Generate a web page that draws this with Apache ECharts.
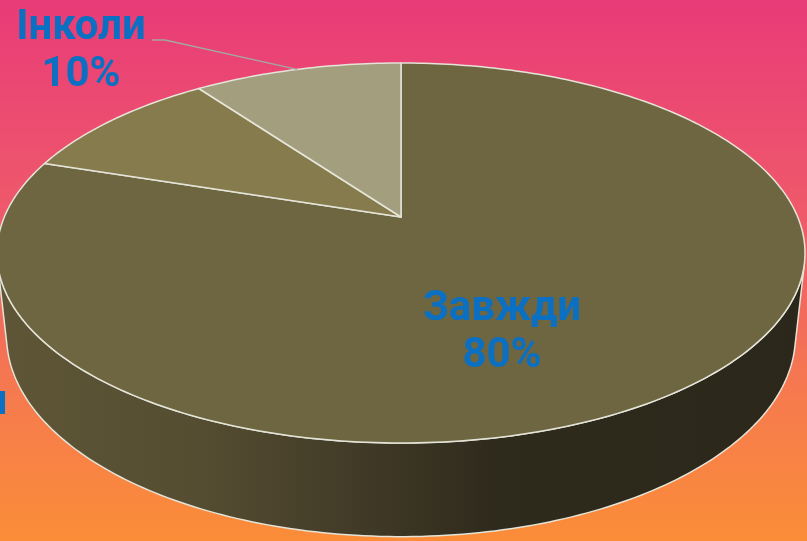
<!DOCTYPE html>
<html>
<head>
<meta charset="utf-8">
<script src="https://cdn.jsdelivr.net/npm/echarts@6/dist/echarts.min.js"></script>
<style>
  html, body { margin: 0; padding: 0; overflow: hidden; }
  #chart { width: 807px; height: 541px; }
</style>
</head>
<body>
<div id="chart"></div>
<script>
const categories = ['Завжди', 'Ніколи', 'Інколи'];
const values = [80, 10, 10];
const topColors = ['#6e6640', '#857b4d', '#a39e7e'];
// where each label block starts (centre x, top y)
const labelPos = [[502, 286], [-60, 380], [81, 5]];
// leader line start for labels that have one
const leaderFrom = [null, null, [152, 40]];

const chart = echarts.init(document.getElementById('chart'));

// simple perspective camera for the tilted pie
const CX = 401, CY = 217, R = 396.7;
const TILT = 27.5 * Math.PI / 180, DIST = 4.682, DEPTH = 0.237;
const sinT = Math.sin(TILT), cosT = Math.cos(TILT);
const total = values.reduce((s, v) => s + v, 0);
const starts = [];
let acc = 0;
values.forEach(v => { starts.push(acc); acc += v; });

// a = angle clockwise from 12 o'clock, y = height (0 top, -DEPTH bottom)
function project(a, y) {
  const x = Math.sin(a), z = -Math.cos(a);
  const cy = y * cosT - z * sinT;
  const dep = DIST - y * sinT - z * cosT;
  return [CX + R * x * DIST / dep, CY - R * cy * DIST / dep];
}

function arc(a0, a1, y) {
  const n = Math.max(2, Math.ceil((a1 - a0) / (Math.PI / 180)));
  const pts = [];
  for (let k = 0; k <= n; k++) pts.push(project(a0 + (a1 - a0) * k / n, y));
  return pts;
}

const edge = { stroke: '#e4e4d8', lineWidth: 1.5, lineJoin: 'round' };

function renderItem(params, api) {
  const i = params.dataIndex;
  const v = api.value(0);
  const a0 = starts[i] / total * Math.PI * 2;
  const a1 = a0 + v / total * Math.PI * 2;
  const children = [];

  // outer wall, only the part facing the camera
  const lim = Math.acos(-1 / (DIST * cosT));
  const w0 = Math.max(a0, lim), w1 = Math.min(a1, Math.PI * 2 - lim);
  if (w1 > w0) {
    const pts = arc(w0, w1, 0).concat(arc(w0, w1, -DEPTH).reverse());
    children.push({
      type: 'polygon',
      z2: 1,
      shape: { points: pts },
      style: Object.assign({
        fill: new echarts.graphic.LinearGradient(0, 0, 1, 0, [
          { offset: 0, color: '#5e5636' },
          { offset: 0.25, color: '#554d31' },
          { offset: 0.48, color: '#3e3725' },
          { offset: 0.62, color: '#2e2a1c' },
          { offset: 1, color: '#2b271a' }
        ])
      }, edge)
    });
  }

  // top face
  children.push({
    type: 'polygon',
    z2: 5,
    shape: { points: [[CX, CY]].concat(arc(a0, a1, 0)) },
    style: Object.assign({ fill: topColors[i] }, edge)
  });

  // label
  const pct = Math.round(v / total * 100) + '%';
  children.push({
    type: 'text',
    z2: 10,
    x: labelPos[i][0],
    y: labelPos[i][1],
    style: {
      text: categories[i] + '\n' + pct,
      fill: '#0b70c2',
      font: 'bold 42px Roboto, "Noto Sans", sans-serif',
      lineHeight: 47,
      align: 'center',
      verticalAlign: 'top'
    }
  });

  if (leaderFrom[i]) {
    const mid = project((a0 + a1) / 2, 0);
    const p0 = leaderFrom[i];
    children.push({
      type: 'polyline',
      z2: 10,
      shape: { points: [p0, [p0[0] + 13, p0[1]], mid] },
      style: { stroke: '#a6a6a0', lineWidth: 1.5, fill: null }
    });
  }

  return { type: 'group', children: children };
}

chart.setOption({
  animation: false,
  graphic: [{
    type: 'rect',
    z: -10,
    silent: true,
    shape: { x: 0, y: 0, width: 807, height: 541 },
    style: {
      fill: new echarts.graphic.LinearGradient(0, 0, 0, 1, [
        { offset: 0, color: '#e83b78' },
        { offset: 0.45, color: '#f05e68' },
        { offset: 0.75, color: '#f67c4c' },
        { offset: 1, color: '#fb8d38' }
      ])
    }
  }],
  series: [{
    type: 'custom',
    coordinateSystem: 'none',
    renderItem: renderItem,
    data: values.map((v, i) => ({ name: categories[i], value: v }))
  }]
});
</script>
</body>
</html>
